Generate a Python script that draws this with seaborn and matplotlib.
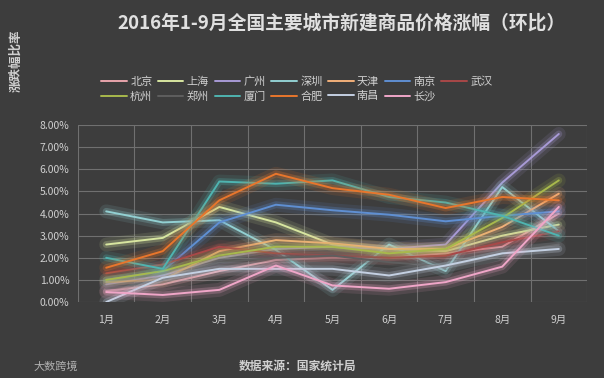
"""
2016年1-9月全国主要城市新建商品住宅价格环比涨幅折线图（深色背景，发光线条）。
"""
import pandas as pd
import seaborn as sns
import matplotlib.pyplot as plt
import matplotlib.patheffects as pe

# 月份与城市
months = ['1月', '2月', '3月', '4月', '5月', '6月', '7月', '8月', '9月']
cities = ['北京', '上海', '广州', '深圳', '天津', '南京', '武汉',
          '杭州', '郑州', '厦门', '合肥', '南昌', '长沙']

# 各城市环比涨幅（%）
beijing = [0.5, 0.8, 1.4, 1.9, 2.0, 2.0, 2.2, 2.5, 4.0]
shanghai = [2.6, 2.9, 4.3, 3.6, 2.6, 2.4, 2.3, 3.0, 3.5]
guangzhou = [0.8, 1.2, 2.0, 2.4, 2.5, 2.4, 2.6, 5.4, 7.6]
shenzhen = [4.1, 3.6, 3.7, 2.35, 0.55, 2.6, 1.4, 5.2, 3.2]
tianjin = [0.9, 1.0, 2.3, 2.8, 2.65, 2.4, 2.4, 3.4, 4.9]
nanjing = [1.0, 1.4, 3.6, 4.4, 4.15, 3.95, 3.65, 3.9, 4.1]
wuhan = [1.3, 1.7, 2.5, 2.2, 2.1, 2.0, 2.1, 2.7, 3.2]
hangzhou = [1.0, 1.4, 2.1, 2.5, 2.5, 2.2, 2.4, 3.8, 5.5]
zhengzhou = [0.6, 1.0, 1.8, 2.0, 2.1, 1.8, 1.6, 2.2, 2.6]
xiamen = [2.0, 1.5, 5.45, 5.35, 5.5, 4.75, 4.5, 3.9, 3.0]
hefei = [1.55, 2.3, 4.6, 5.8, 5.15, 4.85, 4.25, 4.75, 4.6]
nanchang = [0.0, 1.1, 1.5, 1.5, 1.5, 1.2, 1.65, 2.2, 2.4]
changsha = [0.45, 0.32, 0.55, 1.65, 0.75, 0.6, 0.9, 1.6, 4.3]

series = [beijing, shanghai, guangzhou, shenzhen, tianjin, nanjing, wuhan,
          hangzhou, zhengzhou, xiamen, hefei, nanchang, changsha]

colors = ['#e8a4ac', '#d8e6a0', '#a89ad6', '#92d0d2', '#f2b079', '#5f8fd2',
          '#a84848', '#a8b94c', '#5e5e5e', '#4fb4b0', '#e8762c', '#c4d0e2',
          '#f0a6c8']

BG = '#3d3d3d'
TXT = '#d0d0d0'

# 整理成长表
rows = []
for city, vals in zip(cities, series):
    for i, v in enumerate(vals):
        rows.append({'month': i + 1, 'city': city, 'rate': v})
df = pd.DataFrame(rows)

sns.set_theme(style='dark')
plt.rcParams['font.family'] = ['Noto Sans CJK SC', 'DejaVu Sans']

fig = plt.figure(figsize=(6.04, 3.78), dpi=100, facecolor=BG)
ax = fig.add_axes([0.129, 0.201, 0.843, 0.468], facecolor=BG)

sns.lineplot(data=df, x='month', y='rate', hue='city', hue_order=cities,
             palette=dict(zip(cities, colors)), linewidth=1.4, ax=ax)

# 发光效果
for line in ax.lines:
    c = line.get_color()
    line.set_path_effects([pe.Stroke(linewidth=10, foreground=c, alpha=0.12),
                           pe.Stroke(linewidth=5, foreground=c, alpha=0.25),
                           pe.Normal()])

ax.set_xlim(0.5, 9.5)
ax.set_ylim(0, 8)
ax.set_xticks(range(1, 10))
ax.set_xticklabels(months)
ax.set_yticks(range(0, 9))
ax.set_yticklabels(['{:.2f}%'.format(v) for v in range(0, 9)])
ax.tick_params(colors=TXT, labelsize=7.5, length=0)
ax.tick_params(axis='x', pad=9)
ax.tick_params(axis='y', pad=6)
ax.set_xlabel('')
ax.set_ylabel('')

# 网格：横线每1%，竖线在分类边界
ax.set_xticks([x + 0.5 for x in range(0, 10)], minor=True)
ax.grid(False)
ax.grid(axis='y', which='major', color='#707070', linewidth=0.8)
ax.grid(axis='x', which='minor', color='#707070', linewidth=0.8)
ax.tick_params(which='minor', length=0)
for s in ax.spines.values():
    s.set_visible(False)

# 图例按行排列：matplotlib 按列填充，所以重排
order = [0, 7, 1, 8, 2, 9, 3, 10, 4, 11, 5, 12, 6]
old = ax.get_legend()
handles = old.legend_handles
labels = [t.get_text() for t in old.get_texts()]
old.remove()
leg = ax.legend([handles[i] for i in order], [labels[i] for i in order],
                loc='upper center', bbox_to_anchor=(0.43, 1.33), ncol=7,
                frameon=False, fontsize=8, handlelength=2.3,
                columnspacing=0.5, handletextpad=0.3, labelspacing=0.35)
for t in leg.get_texts():
    t.set_color(TXT)

fig.text(0.566, 0.94, '2016年1-9月全国主要城市新建商品价格涨幅（环比）',
         ha='center', va='center', fontsize=13.5, fontweight='bold', color='#e0e0e0')
fig.text(0.027, 0.84, '涨跌幅比率', rotation=90, ha='center', va='center',
         fontsize=9, fontweight='bold', color=TXT)
fig.text(0.493, 0.03, '数据来源：国家统计局', ha='center', va='center',
         fontsize=8.5, fontweight='bold', color=TXT)
fig.text(0.055, 0.03, '大数跨境', ha='left', va='center', fontsize=8, color='#b0b0b0')

fig.savefig('out.png', dpi=100, facecolor=BG)
